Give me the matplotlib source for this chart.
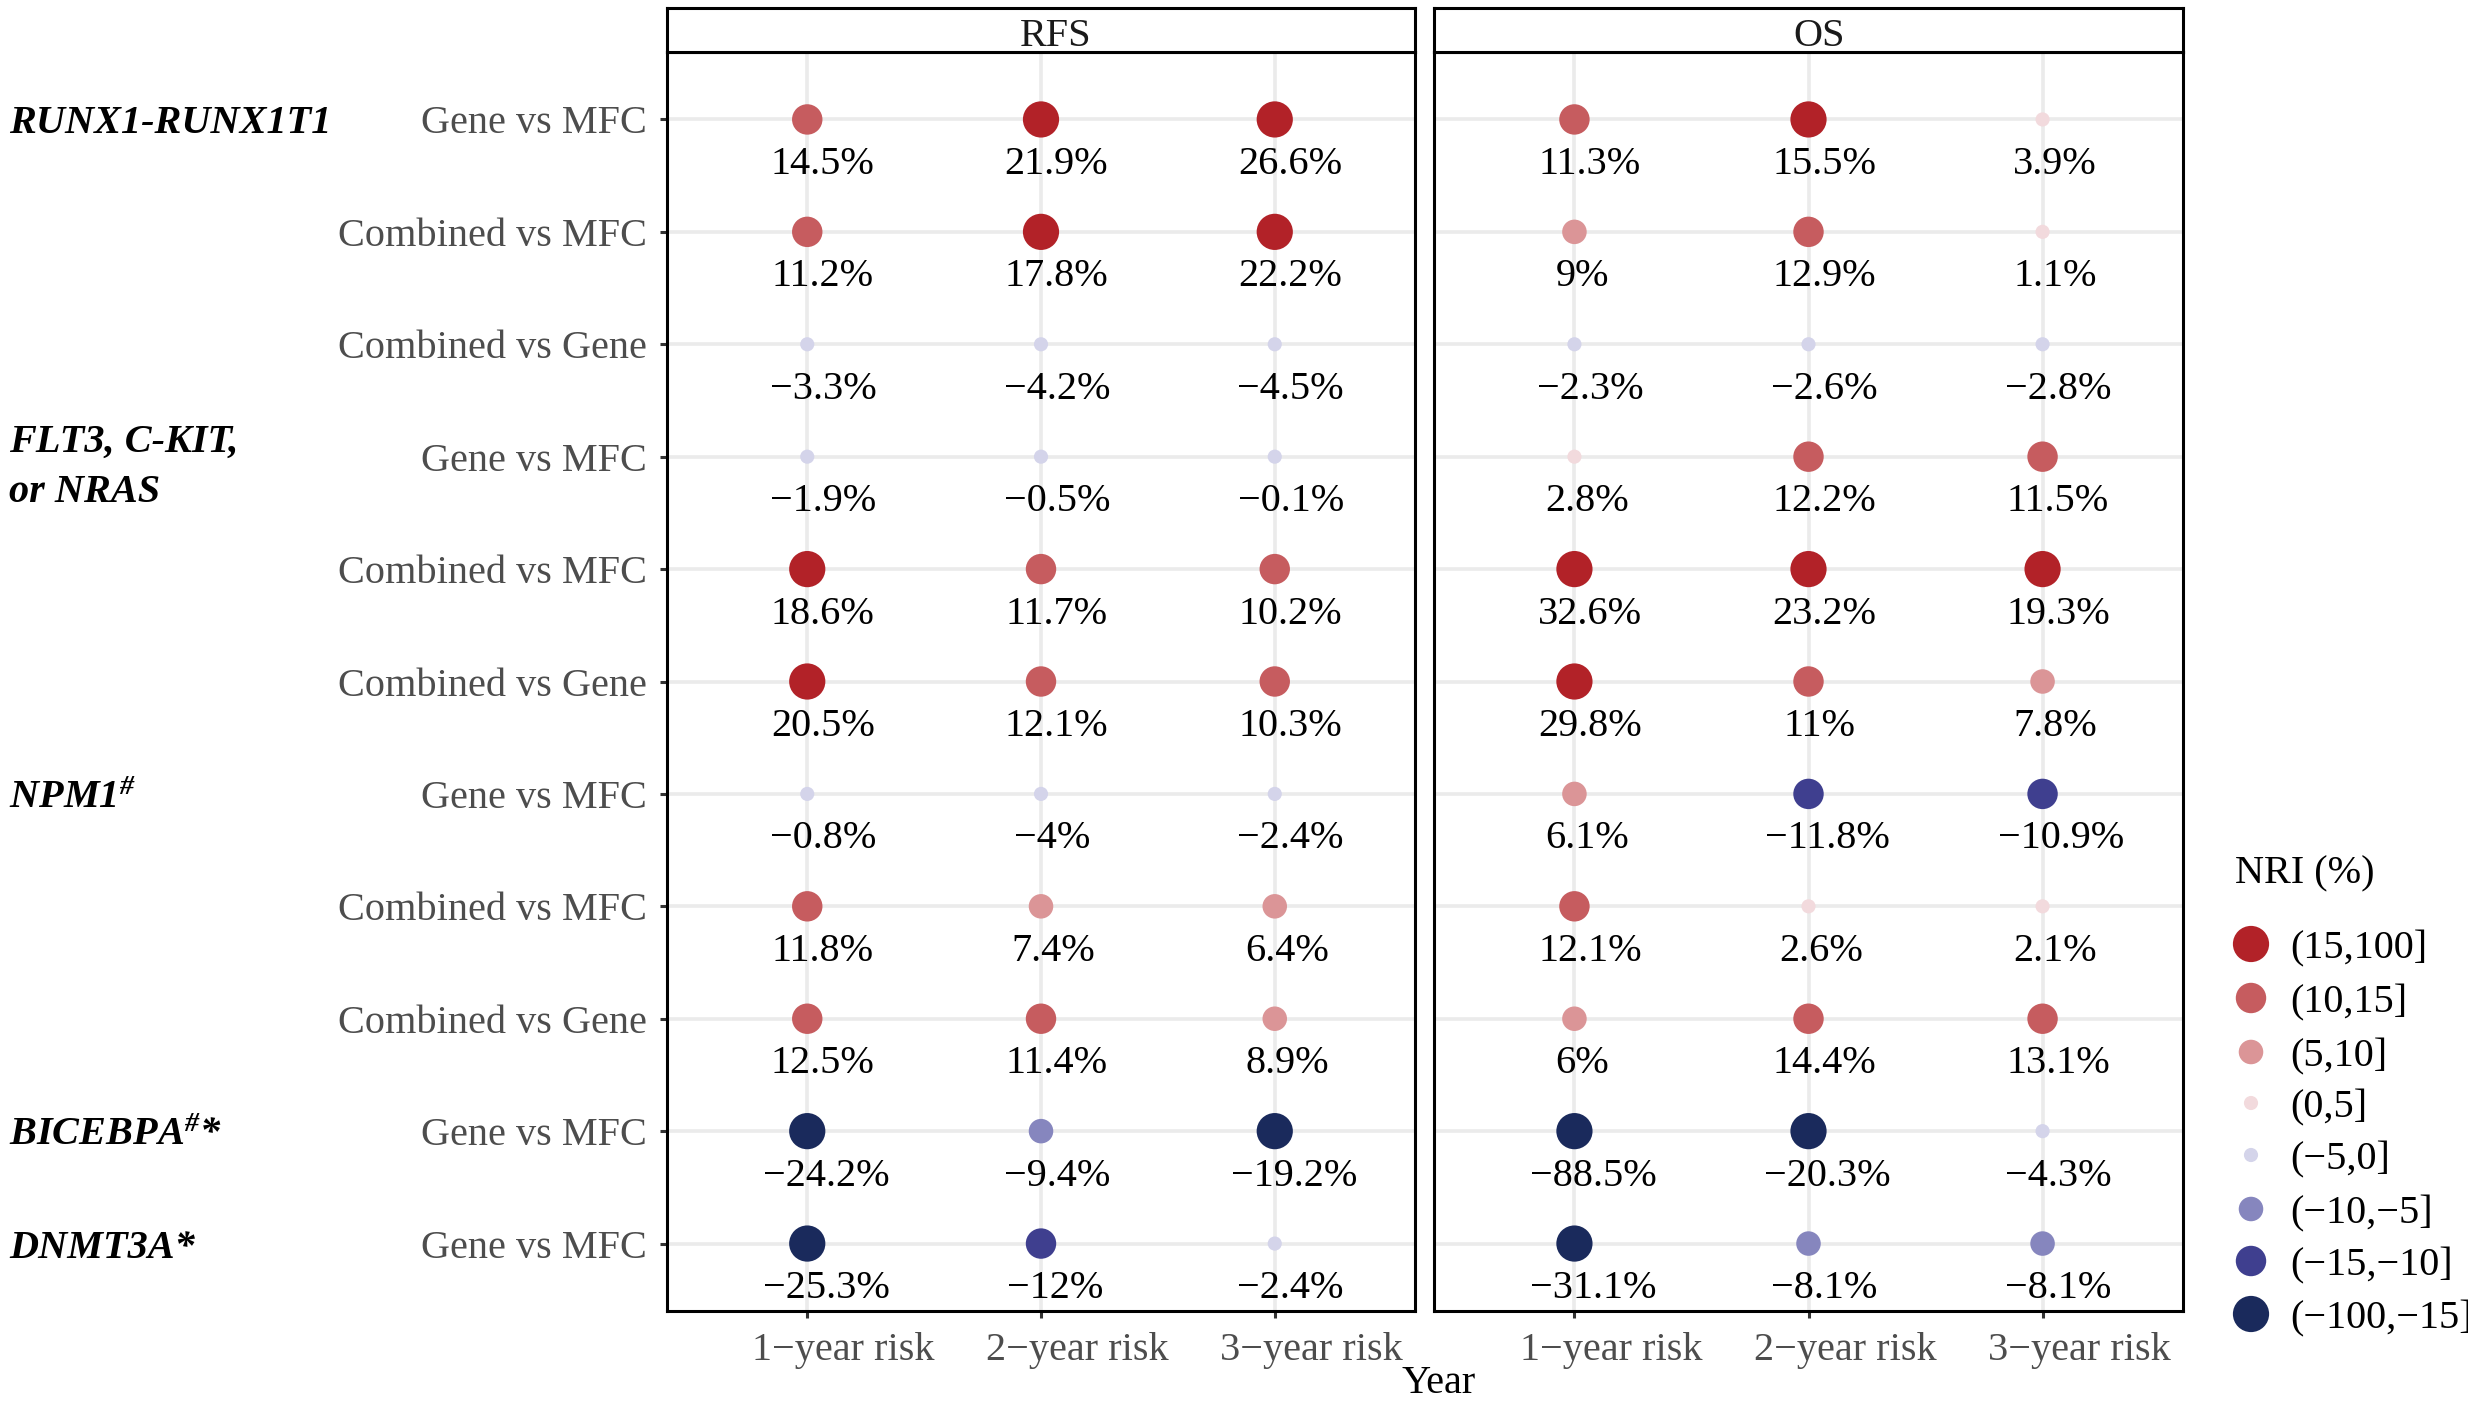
import matplotlib
matplotlib.use("Agg")
import matplotlib.pyplot as plt
from matplotlib.transforms import Affine2D, blended_transform_factory
import numpy as np

plt.rcParams['font.family'] = ['Liberation Serif', 'DejaVu Serif']
plt.rcParams['mathtext.fontset'] = 'custom'
plt.rcParams['mathtext.it'] = 'Liberation Serif:italic:bold'
plt.rcParams['mathtext.rm'] = 'Liberation Serif:italic:bold'
plt.rcParams['mathtext.bf'] = 'Liberation Serif:italic:bold'

# ---- data ----
panels = ["RFS", "OS"]
years = ["1\u2212year risk", "2\u2212year risk", "3\u2212year risk"]
comparisons = ["Gene vs MFC", "Combined vs MFC", "Combined vs Gene",
               "Gene vs MFC", "Combined vs MFC", "Combined vs Gene",
               "Gene vs MFC", "Combined vs MFC", "Combined vs Gene",
               "Gene vs MFC", "Gene vs MFC"]
groups = ["RUNX1-RUNX1T1", "FLT3, C-KIT,\nor NRAS", "NPM1$^{\\#}$",
          "BICEBPA$^{\\#}$*", "DNMT3A*"]
group_rows = [0, 3, 6, 9, 10]

rfs_nri = [[14.5, 21.9, 26.6],
           [11.2, 17.8, 22.2],
           [-3.3, -4.2, -4.5],
           [-1.9, -0.5, -0.1],
           [18.6, 11.7, 10.2],
           [20.5, 12.1, 10.3],
           [-0.8, -4, -2.4],
           [11.8, 7.4, 6.4],
           [12.5, 11.4, 8.9],
           [-24.2, -9.4, -19.2],
           [-25.3, -12, -2.4]]
os_nri = [[11.3, 15.5, 3.9],
          [9, 12.9, 1.1],
          [-2.3, -2.6, -2.8],
          [2.8, 12.2, 11.5],
          [32.6, 23.2, 19.3],
          [29.8, 11, 7.8],
          [6.1, -11.8, -10.9],
          [12.1, 2.6, 2.1],
          [6, 14.4, 13.1],
          [-88.5, -20.3, -4.3],
          [-31.1, -8.1, -8.1]]

bin_labels = ["(15,100]", "(10,15]", "(5,10]", "(0,5]",
              "(\u22125,0]", "(\u221210,\u22125]", "(\u221215,\u221210]", "(\u2212100,\u221215]"]
bin_lower = [15, 10, 5, 0, -5, -10, -15, -100]
bin_upper = [100, 15, 10, 5, 0, -5, -10, -15]

# ---- styles ----
bin_colors = ["#B22228", "#C65C5F", "#DB9597", "#F2DADD",
              "#D4D4EA", "#8686BE", "#3F3F8F", "#1A2A5C"]
bin_sizes = [170, 120, 78, 26, 26, 78, 120, 170]
FS = 14.5
GRID = "#EBEBEB"
W, H = 2468, 1401


def nri_bin(v):
    for i, (lo, hi) in enumerate(zip(bin_lower, bin_upper)):
        if lo < v <= hi:
            return i
    return None


def fmt(v):
    return f"{v:g}%".replace("-", "\u2212")


fig = plt.figure(figsize=(W / 200, H / 200), dpi=200)
fig.patch.set_facecolor("white")

panel_left = [667, 1434]
panel_right = [1415, 2183]
p_top, p_bot = 52, 1311
s_top = 8

shifted = []   # centred texts that the reference shows slightly right of centre
axes = []
for k, (name, vals) in enumerate(zip(panels, [rfs_nri, os_nri])):
    l = panel_left[k] / W
    w = (panel_right[k] - panel_left[k]) / W
    ax = fig.add_axes([l, 1 - p_bot / H, w, (p_bot - p_top) / H])
    axes.append(ax)
    ax.set_xlim(0.4, 3.6)
    ax.set_ylim(len(comparisons) - 0.4, -0.6)
    ax.set_xticks([1, 2, 3])
    ax.set_yticks(range(len(comparisons)))
    ax.grid(True, color=GRID, lw=1.3)
    ax.set_axisbelow(True)
    for sp in ax.spines.values():
        sp.set_color("black")
        sp.set_linewidth(1.1)
    ax.tick_params(axis="x", length=2.6, width=1.1, color="#333333", labelbottom=False)
    if k == 0:
        ax.set_yticklabels(comparisons)
        ax.tick_params(axis="y", length=2.6, width=1.1, color="#333333",
                       labelsize=FS, labelcolor="#4D4D4D", pad=4.6)
    else:
        ax.tick_params(axis="y", length=0, labelleft=False)

    arr = np.array(vals, dtype=float)
    rows, cols = np.meshgrid(np.arange(arr.shape[0]), np.arange(arr.shape[1]), indexing="ij")
    bins = np.array([[nri_bin(v) for v in r] for r in arr])
    for b in range(len(bin_labels)):
        m = bins == b
        if m.any():
            ax.scatter(cols[m] + 1, rows[m], s=bin_sizes[b], color=bin_colors[b],
                       edgecolors="none", zorder=3)
    for i in range(arr.shape[0]):
        for j in range(arr.shape[1]):
            t = ax.text(j + 1, i + 0.36, fmt(vals[i][j]), ha="center", va="center_baseline",
                        fontsize=FS, color="black", zorder=4)
            shifted.append((t, 0.35))

    # x tick labels
    xt = ax.get_xaxis_transform()
    for j, lab in enumerate(years):
        t = ax.text(j + 1, -(1346 - p_bot) / (p_bot - p_top), lab, transform=xt,
                    ha="center", va="center_baseline", fontsize=FS, color="#4D4D4D")
        shifted.append((t, 0.3))

    # facet strip
    sax = fig.add_axes([l, 1 - p_top / H, w, (p_top - s_top) / H])
    sax.set_xticks([])
    sax.set_yticks([])
    for sp in sax.spines.values():
        sp.set_color("black")
        sp.set_linewidth(1.1)
    t = sax.text(0.5, 0.45, name, ha="center", va="center_baseline", fontsize=FS,
                 color="#1A1A1A", transform=sax.transAxes)
    shifted.append((t, 0.3))

# gene group labels at the far left
gtr = blended_transform_factory(fig.transFigure, axes[0].transData)
for g, r in zip(groups, group_rows):
    fig.text(9 / W, r, g, transform=gtr, ha="left", va="center_baseline",
             fontsize=FS, fontweight="bold", fontstyle="italic", color="black",
             linespacing=1.45)

# x axis title
t = fig.text((panel_left[0] + panel_right[1]) / 2 / W, 1 - 1379 / H, "Year",
             ha="center", va="center_baseline", fontsize=FS, color="black")
shifted.append((t, 0.32))

# legend
lax = fig.add_axes([0, 0, 1, 1])
lax.set_xlim(0, W)
lax.set_ylim(H, 0)
lax.axis("off")
lax.patch.set_alpha(0)
lax.text(2235, 869, "NRI (%)", ha="left", va="center_baseline", fontsize=FS, color="black")
leg_y = [944, 998, 1052, 1103, 1155, 1209, 1261, 1314]
for b, lab in enumerate(bin_labels):
    lax.scatter([2251], [leg_y[b]], s=bin_sizes[b], color=bin_colors[b], edgecolors="none")
    lax.text(2290, leg_y[b], lab, ha="left", va="center_baseline", fontsize=FS, color="black")

# ggplot rendered centred text a little to the right of its anchor; mimic that
fig.canvas.draw()
renderer = fig.canvas.get_renderer()
for t, hj in shifted:
    wpx = t.get_window_extent(renderer).width
    t.set_transform(t.get_transform() + Affine2D().translate((0.5 - hj) * wpx, 0))

fig.savefig("out.png", dpi=200, facecolor="white")
